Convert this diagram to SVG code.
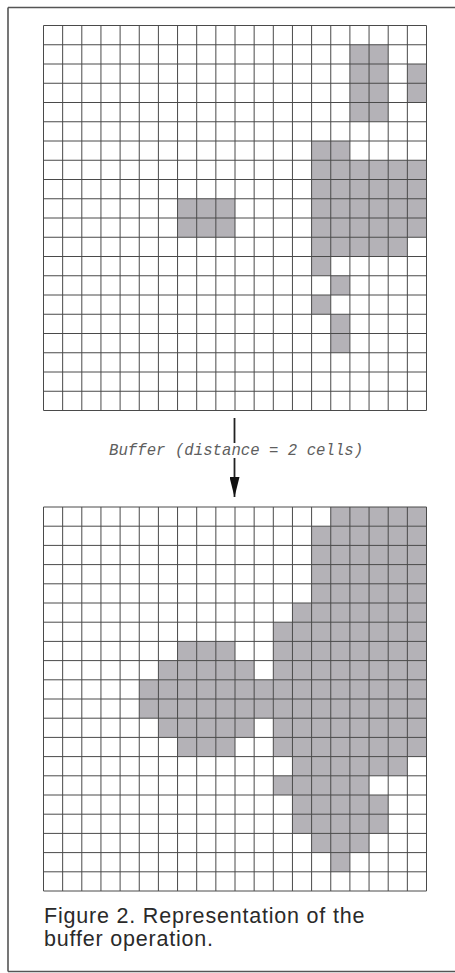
<svg xmlns="http://www.w3.org/2000/svg" width="455" height="973" viewBox="0 0 455 973">
  <style>
    .cell { fill: #b4b2b7; }
    .grid { fill: none; stroke: #4a4a4a; stroke-width: 1; }
    .frame { fill: none; stroke: #555; stroke-width: 1.6; }
    .label { font-family: "Liberation Mono", "DejaVu Sans Mono", monospace; font-style: italic; font-size: 15.7px; fill: #5e5e5e; }
    .caption { font-family: "Liberation Sans", "DejaVu Sans", sans-serif; font-size: 21.5px; letter-spacing: 0.8px; fill: #2a2a2a; }
    .conn { stroke: #222; stroke-width: 1.8; fill: none; }
  </style>
  <defs>
    <path id="gridlines" class="grid" vector-effect="non-scaling-stroke" d="M0 0H20M0 1H20M0 2H20M0 3H20M0 4H20M0 5H20M0 6H20M0 7H20M0 8H20M0 9H20M0 10H20M0 11H20M0 12H20M0 13H20M0 14H20M0 15H20M0 16H20M0 17H20M0 18H20M0 19H20M0 20H20M0 0V20M1 0V20M2 0V20M3 0V20M4 0V20M5 0V20M6 0V20M7 0V20M8 0V20M9 0V20M10 0V20M11 0V20M12 0V20M13 0V20M14 0V20M15 0V20M16 0V20M17 0V20M18 0V20M19 0V20M20 0V20"/>
    <marker id="arrowhead" markerWidth="20" markerHeight="10" refX="20" refY="5" orient="auto" markerUnits="userSpaceOnUse" viewBox="0 0 20 10">
      <path d="M0 0L20 5L0 10Z" fill="#111"/>
    </marker>
  </defs>

  <rect x="0" y="0" width="455" height="973" fill="#fff"/>
  <path class="frame" d="M8 7.5H455M8 7.5V971.5M8 971.5H455"/>

  <g id="grid-before" transform="translate(43.5,25.5) scale(19.15,19.25)">
    <rect class="cell" x="16" y="1" width="2" height="4"/>
    <rect class="cell" x="19" y="2" width="1" height="2"/>
    <rect class="cell" x="14" y="6" width="2" height="1"/>
    <rect class="cell" x="14" y="7" width="6" height="4"/>
    <rect class="cell" x="7" y="9" width="3" height="2"/>
    <rect class="cell" x="14" y="11" width="5" height="1"/>
    <rect class="cell" x="14" y="12" width="1" height="1"/>
    <rect class="cell" x="15" y="13" width="1" height="1"/>
    <rect class="cell" x="14" y="14" width="1" height="1"/>
    <rect class="cell" x="15" y="15" width="1" height="2"/>
    <use href="#gridlines"/>
  </g>

  <g id="grid-after" transform="translate(43.5,507) scale(19.15,19.2)">
    <rect class="cell" x="15" y="0" width="5" height="1"/>
    <rect class="cell" x="14" y="1" width="6" height="4"/>
    <rect class="cell" x="13" y="5" width="7" height="1"/>
    <rect class="cell" x="12" y="6" width="8" height="7"/>
    <rect class="cell" x="7" y="7" width="3" height="1"/>
    <rect class="cell" x="6" y="8" width="5" height="1"/>
    <rect class="cell" x="5" y="9" width="7" height="2"/>
    <rect class="cell" x="6" y="11" width="5" height="1"/>
    <rect class="cell" x="7" y="12" width="3" height="1"/>
    <rect class="cell" x="13" y="13" width="6" height="1"/>
    <rect class="cell" x="12" y="14" width="5" height="1"/>
    <rect class="cell" x="13" y="15" width="5" height="2"/>
    <rect class="cell" x="14" y="17" width="3" height="1"/>
    <rect class="cell" x="15" y="18" width="1" height="1"/>
    <use href="#gridlines"/>
  </g>

  <g id="connectors">
    <line class="conn" x1="234.5" y1="418" x2="234.5" y2="443"/>
    <line class="conn" x1="234.5" y1="458" x2="234.5" y2="497" marker-end="url(#arrowhead)"/>
  </g>

  <g id="operation-label">
    <text class="label" x="109" y="455">Buffer (distance = 2 cells)</text>
  </g>

  <g id="caption">
    <text class="caption" x="44" y="923">Figure 2. Representation of the</text>
    <text class="caption" x="44" y="946">buffer operation.</text>
  </g>
</svg>
